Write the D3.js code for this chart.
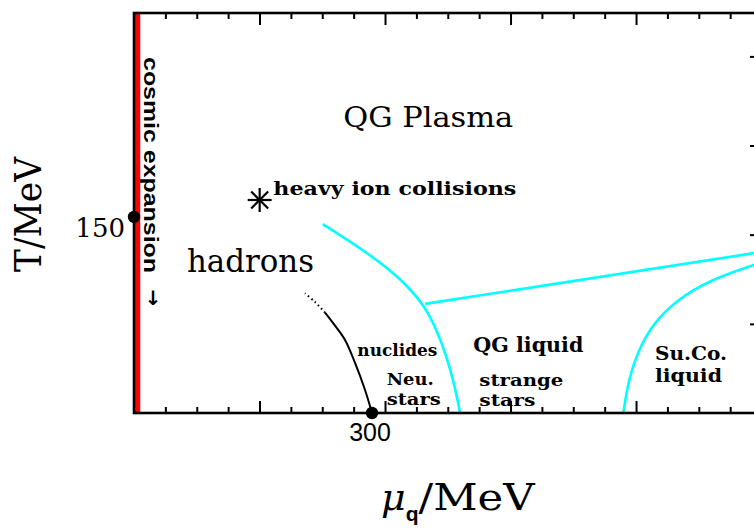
<!DOCTYPE html>
<html>
<head>
<meta charset="utf-8">
<script src="https://cdn.jsdelivr.net/npm/d3@7"></script>
<style>
	body { margin: 0; background: #fff; }
	svg { display: block; }
	.tick line { stroke: #000; stroke-width: 2; }
	.frame { fill: none; stroke: #000; stroke-width: 2.6; }
	.phase { fill: none; stroke: #00ffff; stroke-width: 2.6; }
	.nuclides { fill: none; stroke: #000; stroke-width: 2; }
	.lbl { font-family: "DejaVu Serif", serif; fill: #000; }
	.bold { font-weight: bold; }
</style>
</head>
<body>
<svg id="chart" width="754" height="531"></svg>
<script>
"use strict";

// axis extent (MeV)
const muMax = 784;
const tMax = 306.1;

// tick values
const xMajorTicks = [0, 158.2, 316.4, 474.6, 632.8];
const xMinorTicks = [39.55, 79.1, 118.65, 197.75, 237.3, 276.85, 355.95, 395.5, 435.05,
	514.15, 553.7, 593.25, 672.35, 711.9, 751.45];
const yTicks = [68.2, 136.5, 204.7, 272.9];
const tickLabels = [{mu: 300, T: 0, text: "300"}, {mu: 0, T: 150, text: "150"}];

// curves, [mu, T]
const cosmicLine = [[4.4, 0], [4.4, 306.1]];
const nuclidesSolid = [[300, 0], [291.2, 17.6], [278.6, 38.3], [266, 55.9], [251.2, 68.6], [240.8, 76.8]];
const nuclidesDotted = [[240.8, 76.8], [228.2, 84.9], [215.5, 91.6]];
const hadronBoundary = [[237.9, 144.6], [237.9, 144.6], [289.0, 124.7], [322.7, 109.4], [344.1, 97.5],
	[366.8, 81.5], [381.6, 63.5], [394.2, 43.1], [404.6, 20.1], [411, 0], [411, 0]];
const plasmaLiquid = [[366.8, 83.5], [784, 122.6]];
const superconductor = [[616.8, 0], [616.8, 0], [623.1, 25.3], [635.7, 48.2], [654.6, 68.7], [684.1, 86.5],
	[726.1, 101.8], [781.5, 113.3], [790, 115], [790, 115]];
const points = [[0, 150], [300, 0]];
const heavyIon = [158.4, 163];

// region names: text, anchor mu, anchor T, width
const regionLabels = [
	{text: "QG Plasma", mu: 263.7, T: 219.1, w: 170, size: 28, bold: false},
	{text: "hadrons", mu: 66.8, T: 108.2, w: 127, size: 31, bold: false},
	{text: "heavy ion collisions", mu: 175.6, T: 167, w: 243, size: 19, bold: true},
	{text: "nuclides", mu: 281.5, T: 43.6, w: 80, size: 17, bold: true},
	{text: "Neu.", mu: 318.5, T: 21.1, w: 47, size: 17, bold: true},
	{text: "stars", mu: 318.5, T: 5.8, w: 54, size: 17, bold: true},
	{text: "QG liquid", mu: 427.7, T: 46.9, w: 110, size: 21, bold: true},
	{text: "strange", mu: 435.3, T: 20.9, w: 84, size: 17, bold: true},
	{text: "stars", mu: 435.3, T: 5.6, w: 56, size: 17, bold: true},
	{text: "Su.Co.", mu: 656.7, T: 40.6, w: 72, size: 19, bold: true},
	{text: "liquid", mu: 656.7, T: 24, w: 67, size: 19, bold: true}
];

const svg = d3.select("#chart");
const x = d3.scaleLinear().domain([0, muMax]).range([134, 756]);
const y = d3.scaleLinear().domain([0, tMax]).range([413, 13]);

svg.append("clipPath").attr("id", "plot")
	.append("rect")
	.attr("x", x(0)).attr("y", y(tMax))
	.attr("width", x(muMax) - x(0)).attr("height", y(0) - y(tMax));

// ticks point inward on all four sides
function ticks(axis, values, size, transform) {
	let g = svg.append("g")
		.attr("transform", transform)
		.call(axis.tickValues(values).tickSize(-size).tickFormat(""));
	g.select(".domain").remove();
}
ticks(d3.axisBottom(x), xMinorTicks, 6, `translate(0,${y(0)})`);
ticks(d3.axisBottom(x), xMajorTicks, 12, `translate(0,${y(0)})`);
ticks(d3.axisTop(x), xMinorTicks, 6, `translate(0,${y(tMax)})`);
ticks(d3.axisTop(x), xMajorTicks, 12, `translate(0,${y(tMax)})`);
ticks(d3.axisLeft(y), yTicks, 6, `translate(${x(0)},0)`);
ticks(d3.axisRight(y), yTicks, 6, `translate(${x(muMax)},0)`);

let line = d3.line().x(d=>x(d[0])).y(d=>y(d[1]));
let smooth = d3.line().x(d=>x(d[0])).y(d=>y(d[1])).curve(d3.curveCatmullRom);
let basis = d3.line().x(d=>x(d[0])).y(d=>y(d[1])).curve(d3.curveBasis);

let curves = svg.append("g").attr("clip-path", "url(#plot)");
curves.append("path").datum(cosmicLine).attr("d", line)
	.attr("fill", "none").attr("stroke", "#ff0000").attr("stroke-width", 5.5);
curves.append("path").datum(hadronBoundary).attr("class", "phase").attr("d", basis);
curves.append("path").datum(plasmaLiquid).attr("class", "phase").attr("d", line);
curves.append("path").datum(superconductor).attr("class", "phase").attr("d", basis);
curves.append("path").datum(nuclidesSolid).attr("class", "nuclides").attr("d", smooth);
curves.append("path").datum(nuclidesDotted).attr("class", "nuclides").attr("d", smooth)
	.attr("stroke-dasharray", "1.5,3");

svg.append("rect").attr("class", "frame")
	.attr("x", x(0)).attr("y", y(tMax))
	.attr("width", x(muMax) - x(0)).attr("height", y(0) - y(tMax));

svg.selectAll(".dot").data(points).enter()
	.append("circle").classed("dot", true)
	.attr("cx", d=>x(d[0])).attr("cy", d=>y(d[1])).attr("r", 6.2);

// 8-armed star for heavy ion collisions
let star = svg.append("g").attr("transform", `translate(${x(heavyIon[0])},${y(heavyIon[1])})`);
for (let a = 0; a < 4; a++) {
	let ang = a * Math.PI / 4, r = 12;
	star.append("line")
		.attr("x1", -r * Math.cos(ang)).attr("y1", -r * Math.sin(ang))
		.attr("x2", r * Math.cos(ang)).attr("y2", r * Math.sin(ang))
		.attr("stroke", "#000").attr("stroke-width", 2.2);
}

svg.selectAll(".region").data(regionLabels).enter()
	.append("text").attr("class", d=>"region lbl" + (d.bold ? " bold" : ""))
	.attr("x", d=>x(d.mu)).attr("y", d=>y(d.T))
	.attr("font-size", d=>d.size)
	.attr("textLength", d=>d.w).attr("lengthAdjust", "spacingAndGlyphs")
	.text(d=>d.text);

// tick labels
svg.append("text").attr("class", "lbl")
	.attr("x", x(tickLabels[1].mu) - 9).attr("y", y(tickLabels[1].T) + 20)
	.attr("text-anchor", "end").attr("font-size", 26)
	.text(tickLabels[1].text);
svg.append("text")
	.attr("x", x(tickLabels[0].mu) - 2).attr("y", y(tickLabels[0].T) + 28)
	.attr("text-anchor", "middle").attr("font-size", 25)
	.attr("font-family", "Liberation Sans, sans-serif")
	.text(tickLabels[0].text);

// cosmic expansion, written downwards along the red line
svg.append("text")
	.attr("transform", `translate(${x(12.6)},${y(272.4)}) rotate(90)`)
	.attr("font-family", "Liberation Sans, sans-serif").attr("font-weight", "bold")
	.attr("font-size", 21).attr("textLength", 216).attr("lengthAdjust", "spacingAndGlyphs")
	.text("cosmic expansion");
svg.append("text")
	.attr("x", x(24)).attr("y", y(83))
	.attr("text-anchor", "middle").attr("font-size", 20)
	.attr("font-family", "DejaVu Sans, sans-serif").attr("font-weight", "bold")
	.text("↓");

// axis titles
svg.append("text").attr("class", "lbl")
	.attr("transform", "translate(41,272) rotate(-90)")
	.attr("font-size", 37).attr("textLength", 115).attr("lengthAdjust", "spacingAndGlyphs")
	.text("T/MeV");

let xt = svg.append("text").attr("class", "lbl")
	.attr("x", 381).attr("y", 510).attr("font-size", 38);
xt.append("tspan").attr("font-style", "italic").text("μ");
xt.append("tspan").attr("dy", 11).attr("font-size", 21).attr("font-weight", "bold")
	.attr("font-family", "Liberation Sans, sans-serif").text("q");
xt.append("tspan").attr("dy", -11).attr("textLength", 116).attr("lengthAdjust", "spacingAndGlyphs").text("/MeV");
</script>
</body>
</html>
